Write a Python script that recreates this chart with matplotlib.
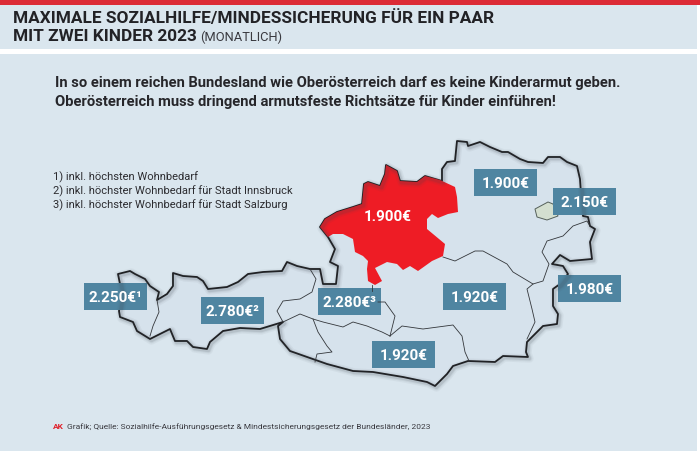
from matplotlib import pyplot as plt
from matplotlib.patches import Polygon, Rectangle

plt.rcParams["font.family"] = ["Roboto", "DejaVu Sans"]

title_lines = ["MAXIMALE SOZIALHILFE/MINDESSICHERUNG FÜR EIN PAAR", "MIT ZWEI KINDER 2023"]
title_extra = "(MONATLICH)"
intro_lines = [
    "In so einem reichen Bundesland wie Oberösterreich darf es keine Kinderarmut geben.",
    "Oberösterreich muss dringend armutsfeste Richtsätze für Kinder einführen!",
]
notes = [
    "1) inkl. höchsten Wohnbedarf",
    "2) inkl. höchster Wohnbedarf für Stadt Innsbruck",
    "3) inkl. höchster Wohnbedarf für Stadt Salzburg",
]
source_ak = "AK"
source = "Grafik; Quelle: Sozialhilfe-Ausführungsgesetz & Mindestsicherungsgesetz der Bundesländer, 2023"

# Amounts per Bundesland
states = ["Vorarlberg", "Tirol", "Salzburg", "Oberösterreich", "Niederösterreich", "Wien",
          "Burgenland", "Steiermark", "Kärnten"]
amounts = ["2.250€¹", "2.780€²", "2.280€³", "1.900€", "1.900€", "2.150€", "1.980€", "1.920€", "1.920€"]
box_left = [84, 201, 318, None, 474, 553, 558, 443, 372]
box_top = [284, 298, 289, None, 170, 189, 276, 284, 342]

# Map outlines, in pixels
austria = [(118, 275), (130, 272), (135, 275), (145, 280), (150, 287), (159, 293), (157, 301), (167, 295),
           (173, 287), (173, 274), (183, 277), (197, 278), (203, 282), (208, 290), (227, 288), (238, 283),
           (248, 275), (263, 273), (282, 272), (287, 263), (297, 267), (310, 270), (320, 270), (323, 285),
           (336, 285), (338, 267), (330, 263), (335, 250), (328, 238), (320, 228), (325, 220), (337, 213),
           (353, 208), (362, 205), (364, 185), (368, 183), (380, 187), (385, 175), (386, 166), (397, 172),
           (400, 182), (417, 183), (425, 177), (442, 182), (442, 170), (447, 163), (455, 162), (457, 142),
           (467, 143), (468, 147), (480, 143), (490, 148), (502, 153), (508, 153), (520, 160), (528, 163),
           (543, 164), (548, 158), (560, 158), (567, 163), (577, 167), (580, 180), (581, 195), (583, 217),
           (588, 218), (590, 227), (595, 230), (590, 243), (592, 260), (570, 262), (560, 256), (552, 265),
           (563, 267), (568, 275), (560, 285), (553, 290), (553, 307), (558, 315), (557, 325), (543, 327),
           (533, 337), (527, 343), (526, 353), (528, 358), (503, 357), (495, 363), (468, 362), (453, 367),
           (447, 375), (435, 387), (427, 383), (403, 378), (373, 373), (353, 372), (327, 365), (290, 352),
           (280, 340), (278, 327), (283, 323), (260, 330), (240, 329), (223, 332), (210, 343), (207, 350),
           (193, 348), (187, 342), (175, 342), (170, 330), (160, 335), (150, 340), (137, 332), (133, 323),
           (120, 318), (119, 312), (122, 295)]
upper_austria = [(320, 228), (325, 220), (337, 213), (353, 208), (362, 205), (364, 185), (368, 183), (380, 187),
                 (385, 175), (386, 166), (397, 172), (400, 182), (417, 183), (425, 177), (440, 181), (455, 188),
                 (457, 198), (458, 213), (448, 215), (438, 219), (432, 215), (427, 220), (427, 230), (445, 245),
                 (443, 257), (432, 262), (418, 272), (410, 267), (403, 271), (397, 265), (387, 263), (375, 269),
                 (382, 282), (375, 286), (368, 282), (367, 270), (368, 262), (363, 257), (355, 253), (353, 240),
                 (343, 235), (333, 235), (328, 238)]
vienna = [(535, 210), (548, 203), (553, 205), (558, 217), (547, 221), (537, 218)]
borders = [
    [(157, 301), (159, 313), (153, 327), (150, 337)],
    [(310, 270), (316, 280), (312, 293), (300, 300), (283, 302), (277, 312), (283, 323), (300, 315), (313, 320),
     (323, 323), (343, 328), (353, 323), (367, 327), (382, 333), (390, 337)],
    [(313, 320), (318, 333), (327, 347), (332, 353), (317, 355), (315, 363)],
    [(390, 337), (402, 327), (423, 330), (453, 326), (462, 337), (465, 353), (469, 362)],
    [(390, 337), (395, 317), (385, 303), (378, 303)],
    [(372, 286), (372, 292)],
    [(443, 258), (455, 262), (475, 252), (483, 252), (507, 265), (513, 273), (533, 285), (543, 282), (549, 265),
     (542, 253), (547, 242), (563, 237), (573, 227), (587, 222), (590, 227)],
    [(533, 285), (527, 290), (532, 310), (535, 323), (527, 340)],
]

fig = plt.figure(figsize=(7, 4.52), dpi=100)
ax = fig.add_axes([0, 0, 1, 1])
ax.set_xlim(0, 700)
ax.set_ylim(452, 0)
ax.axis("off")

bg = "#dae6ee"
ax.add_patch(Rectangle((0, 0), 700, 452, color="white", lw=0))
ax.add_patch(Rectangle((0, 5), 697, 44.5, color=bg, lw=0))
ax.add_patch(Rectangle((0, 55), 697, 397, color=bg, lw=0))
ax.add_patch(Rectangle((0, 0), 700, 5.5, color="#dc2b36", lw=0))

ax.text(13, 23, title_lines[0], fontsize=12.4, fontweight="bold", color="#222226", va="baseline")
ax.text(13, 41, title_lines[1], fontsize=12.4, fontweight="bold", color="#222226", va="baseline")
ax.text(200, 41, title_extra, fontsize=9.3, color="#3a3a40", va="baseline")
ax.text(55, 87, intro_lines[0], fontsize=10.6, fontweight="bold", color="#26262a", va="baseline")
ax.text(55, 106, intro_lines[1], fontsize=10.6, fontweight="bold", color="#26262a", va="baseline")
for i, note in enumerate(notes):
    ax.text(53, 180 + i * 14.3, note, fontsize=8.05, color="#2c2c30", va="baseline")
ax.text(53, 429, source_ak, fontsize=6.05, fontweight="bold", color="#e0202a", va="baseline")
ax.text(67, 429, source, fontsize=6.05, color="#3a3a40", va="baseline")

# soft shadow below the map
closed = austria + austria[:1]
sx = [p[0] + 1.5 for p in closed]
sy = [p[1] + 1.5 for p in closed]
for width, a in [(6, 0.05), (4, 0.07), (2.5, 0.12)]:
    ax.plot(sx, sy, color="#3c454e", alpha=a, lw=width, solid_joinstyle="round")
ax.add_patch(Polygon(austria, closed=True, fc="#d6e2ec", ec="#1c1c1e", lw=1.3, joinstyle="round"))
ax.add_patch(Polygon(upper_austria, closed=True, fc="#ee1c25", ec="none", lw=0))
ax.add_patch(Polygon(vienna, closed=True, fc="#d4dfd0", ec="#55605a", lw=0.7))
for line in borders:
    bx, by = zip(*line)
    ax.plot(bx, by, color="#33363a", lw=0.6, solid_joinstyle="round")

for state, amount, left, top in zip(states, amounts, box_left, box_top):
    if left is None:
        ax.text(388, 221, amount, fontsize=11, fontweight="bold", color="white", ha="center", va="baseline")
        continue
    ax.add_patch(Rectangle((left, top), 63, 27, color="#4f85a1", lw=0))
    ax.text(left + 31.5, top + 18.5, amount, fontsize=11, fontweight="bold", color="white", ha="center", va="baseline")

fig.savefig("out.png", dpi=100)
